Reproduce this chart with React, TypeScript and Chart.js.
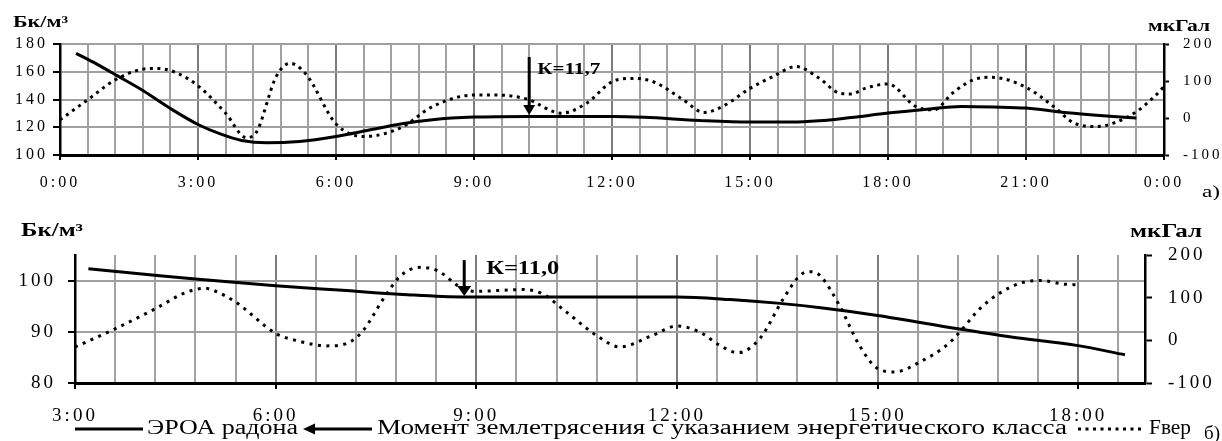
import React, { useEffect, useRef } from 'react';
import { Chart, registerables } from 'chart.js';

Chart.register(...registerables);

const SERIF = '"Liberation Serif", "Times New Roman", Times, serif';

// ---------- panel а) ----------
const radonHoursA = [0.35, 0.8, 1.25, 1.8, 2.4, 3.0, 3.5, 3.95, 4.5, 5.2, 6.0, 6.7, 7.4, 8.1, 9.0, 10.2, 11.2, 12.0, 12.7, 13.9, 15.0, 15.9, 16.5, 17.2, 18.0, 18.8, 19.6, 20.3, 21.0, 21.9, 22.6, 23.4];
const radonA = [173.3, 165.5, 157, 146.5, 133.5, 122, 115, 110.5, 108.8, 109.8, 113.4, 117.8, 122.3, 125.4, 127.3, 127.8, 127.8, 127.8, 127.2, 124.9, 123.7, 123.7, 124.6, 127, 130.2, 132.8, 135, 134.6, 133.8, 130.5, 128.5, 126.6];
const gravHoursA = [0, 0.6, 1.2, 1.8, 2.1, 2.5, 3.0, 3.6, 4.05, 4.25, 4.7, 5.0, 5.35, 6.0, 6.6, 7.4, 8.1, 9.0, 9.5, 10.15, 10.9, 11.45, 12.0, 12.45, 12.9, 13.55, 14.0, 14.4, 15.0, 15.5, 16.0, 16.5, 16.95, 17.2, 17.5, 18.0, 18.6, 19.0, 19.4, 19.85, 20.25, 21.0, 21.6, 22.05, 22.55, 22.9, 23.4, 23.75, 24.0];
const gravA = [-5, 49, 103, 132, 134, 124, 87, 13, -53, -42, 112, 148, 118, -16, -50, -27, 31, 62, 62, 51, 13, 40, 98, 107, 98, 49, 15, 31, 80, 112, 139, 108, 67, 65, 80, 92, 31, 22, 67, 103, 110, 83, 31, -14, -23, -14, 17, 53, 85];
const xMajorA = [0, 3, 6, 9, 12, 15, 18, 21, 24];
const xTickLabelsA = ['0:00', '3:00', '6:00', '9:00', '12:00', '15:00', '18:00', '21:00', '0:00'];
const leftRangeA = [100, 180];
const leftTicksA = [100, 120, 140, 160, 180];
const rightRangeA = [-100, 200];
const rightTicksA = [-100, -50, 0, 50, 100, 150, 200];
const quakeHourA = 10.2;
const quakeArrowA = [170.6, 128.8];
const quakeLabelA = 'К=11,7';

// ---------- panel б) ----------
const radonHoursB = [3.2, 4.0, 4.8, 6.0, 7.0, 7.9, 8.8, 9.8, 11.0, 12.0, 12.8, 13.5, 14.15, 15.0, 16.2, 17.0, 18.0, 18.7];
const radonB = [102.3, 101.3, 100.3, 99.0, 98.1, 97.3, 96.8, 96.8, 96.8, 96.8, 96.3, 95.6, 94.7, 93.2, 90.6, 89.0, 87.3, 85.5];
const gravHoursB = [3.0, 3.6, 4.2, 4.67, 4.94, 5.07, 5.4, 6.01, 6.36, 6.76, 7.11, 7.31, 7.61, 7.86, 8.16, 8.41, 8.8, 9.0, 9.7, 9.99, 10.35, 10.83, 11.15, 11.64, 12.0, 12.34, 12.64, 12.91, 13.24, 13.59, 13.84, 13.99, 14.14, 14.43, 14.73, 15.0, 15.26, 15.63, 16.03, 16.23, 16.53, 16.85, 17.18, 17.45, 17.77, 18.0];
const gravB = [-15.6, 27, 74, 113, 122, 117, 90, 15.6, -2.3, -13, -4, 23, 97, 150, 171, 164, 121, 115, 119, 109, 66, 8, -15.6, 12, 33.5, 19.5, -11.7, -29, 4, 97, 152, 161, 152, 82, -12, -66, -74, -51, -12, 19.5, 74, 113, 136, 140, 132, 130];
const xMajorB = [3, 6, 9, 12, 15, 18];
const xTickLabelsB = ['3:00', '6:00', '9:00', '12:00', '15:00', '18:00'];
const leftRangeB = [80, 105];
const leftTicksB = [80, 90, 100];
const rightRangeB = [-100, 200];
const rightTicksB = [-100, 0, 100, 200];
const quakeHourB = 8.82;
const quakeArrowB = [104.0, 97.0];
const quakeLabelB = 'К=11,0';

// ---------- texts ----------
const seriesNames = ['ЭРОА радона', 'Fвер'];
const quakeLegend = 'Момент землетрясения с указанием энергетического класса';
const unitLeft = 'Бк/м³';
const unitRight = 'мкГал';
const panelLabels = ['а)', 'б)'];

const GRID_STEP = 0.6;
const MINOR_COLOR = '#a2a2a2';
const MAJOR_COLOR = '#7c7c7c';
const near = (a: number, b: number) => Math.abs(a - b) < 1e-6;

function gridValues(min: number, max: number) {
  const out: number[] = [];
  const n = Math.floor((max - min) / GRID_STEP + 1e-6);
  for (let i = 0; i <= n; i++) {
    out.push(Math.round((min + i * GRID_STEP) * 1000) / 1000);
  }
  return out;
}

function drawText(ctx: CanvasRenderingContext2D, text: string, x: number, y: number, font: string, width: number) {
  ctx.save();
  ctx.font = font;
  (ctx as any).letterSpacing = '0px';
  ctx.fillStyle = '#000';
  ctx.textBaseline = 'middle';
  ctx.textAlign = 'left';
  const w = ctx.measureText(text).width || 1;
  ctx.translate(x, y);
  ctx.scale(width / w, 1);
  ctx.fillText(text, 0, 0);
  ctx.restore();
}

function drawArrow(ctx: CanvasRenderingContext2D, x1: number, y1: number, x2: number, y2: number, headLen: number, headW: number, lw: number) {
  const dx = x2 - x1, dy = y2 - y1;
  const len = Math.hypot(dx, dy) || 1;
  const ux = dx / len, uy = dy / len;
  const bx = x2 - ux * headLen, by = y2 - uy * headLen;
  ctx.save();
  ctx.strokeStyle = '#000';
  ctx.fillStyle = '#000';
  ctx.lineWidth = lw;
  ctx.setLineDash([]);
  ctx.beginPath();
  ctx.moveTo(x1, y1);
  ctx.lineTo(bx + ux, by + uy);
  ctx.stroke();
  ctx.beginPath();
  ctx.moveTo(x2, y2);
  ctx.lineTo(bx - uy * headW / 2, by + ux * headW / 2);
  ctx.lineTo(bx + uy * headW / 2, by - ux * headW / 2);
  ctx.closePath();
  ctx.fill();
  ctx.restore();
}

// vertical grid every 36 minutes, placed with the x scale and painted beneath everything already drawn
function drawTimeGrid(chart: any, p: Panel) {
  const xs = chart.scales.x;
  const area = chart.chartArea;
  const ctx = chart.ctx as CanvasRenderingContext2D;
  const values = gridValues(p.xMin, p.xMax);
  ctx.save();
  ctx.globalAlpha = 1;
  ctx.globalCompositeOperation = 'destination-over';
  ctx.lineWidth = 2;
  ctx.setLineDash([]);
  for (let k = 1; k < values.length; k++) {
    const v = values[k];
    if (near(v, p.xMax)) continue;
    if (p.xMajor.some((m) => near(m, v))) continue;
    const x = Math.round(xs.getPixelForValue(v));
    ctx.strokeStyle = MINOR_COLOR;
    ctx.beginPath();
    ctx.moveTo(x, area.top);
    ctx.lineTo(x, area.bottom - 1);
    ctx.stroke();
  }
  ctx.restore();
}

const spacingPlugin = {
  id: 'spacing',
  beforeDraw(chart: any) {
    (chart.ctx as any).letterSpacing = '3px';
  },
};

const overlayA = {
  id: 'overlayA',
  afterDraw(chart: any) {
    drawTimeGrid(chart, panelA);
    const ctx = chart.ctx as CanvasRenderingContext2D;
    const xs = chart.scales.x, ys = chart.scales.y;
    const x = xs.getPixelForValue(quakeHourA);
    const yTop = ys.getPixelForValue(quakeArrowA[0]);
    const yTip = ys.getPixelForValue(quakeArrowA[1]);
    drawArrow(ctx, x, yTop, x, yTip, 10, 12, 3);
    drawText(ctx, quakeLabelA, x + 8, yTop + 13, `bold 16px ${SERIF}`, 63);
    drawText(ctx, unitLeft, 13, 23, `bold 16px ${SERIF}`, 55);
    drawText(ctx, unitRight, 1148, 27, `bold 16px ${SERIF}`, 62);
    drawText(ctx, panelLabels[0], 1202, 193, `17px ${SERIF}`, 18);
  },
};

const overlayB = {
  id: 'overlayB',
  afterDraw(chart: any) {
    drawTimeGrid(chart, panelB);
    const ctx = chart.ctx as CanvasRenderingContext2D;
    const xs = chart.scales.x, ys = chart.scales.y;
    const x = xs.getPixelForValue(quakeHourB);
    const yTop = ys.getPixelForValue(quakeArrowB[0]);
    const yTip = ys.getPixelForValue(quakeArrowB[1]);
    drawArrow(ctx, x, yTop, x, yTip, 10, 14, 3);
    drawText(ctx, quakeLabelB, x + 22, yTop + 9, `bold 18px ${SERIF}`, 73);
    drawText(ctx, unitLeft, 21, 31, `bold 18px ${SERIF}`, 62);
    drawText(ctx, unitRight, 1130, 32, `bold 18px ${SERIF}`, 72);

    // legend
    const ly = 229;
    ctx.save();
    ctx.strokeStyle = '#000';
    ctx.lineWidth = 3;
    ctx.setLineDash([]);
    ctx.beginPath();
    ctx.moveTo(75, ly);
    ctx.lineTo(143, ly);
    ctx.stroke();
    ctx.restore();
    drawText(ctx, seriesNames[0], 147, ly, `20px ${SERIF}`, 151);
    drawArrow(ctx, 372, ly, 303, ly, 12, 11, 3);
    drawText(ctx, quakeLegend, 377, ly, `20px ${SERIF}`, 690);
    ctx.save();
    ctx.strokeStyle = '#000';
    ctx.lineWidth = 3;
    ctx.lineCap = 'butt';
    ctx.setLineDash([3, 4.5]);
    ctx.beginPath();
    ctx.moveTo(1078, ly);
    ctx.lineTo(1144, ly);
    ctx.stroke();
    ctx.restore();
    drawText(ctx, seriesNames[1], 1149, ly, `20px ${SERIF}`, 42);
    drawText(ctx, panelLabels[1], 1204, ly + 5, `19px ${SERIF}`, 16);
  },
};

type Panel = {
  xMin: number; xMax: number; xMajor: number[]; xLabels: string[];
  leftRange: number[]; leftTicks: number[]; rightRange: number[]; rightTicks: number[];
  radonH: number[]; radon: number[]; gravH: number[]; grav: number[];
  padTop: number; leftW: number; rightW: number; xAxisH: number;
  tickFont: number; rightFont: number; xTickLen: number; xPad: number;
  yTickLenL: number; yPadL: number; yTickLenR: number; yPadR: number;
  dotDash: number[]; overlay: any;
};

const panelA: Panel = {
  xMin: 0, xMax: 24, xMajor: xMajorA, xLabels: xTickLabelsA,
  leftRange: leftRangeA, leftTicks: leftTicksA, rightRange: rightRangeA, rightTicks: rightTicksA,
  radonH: radonHoursA, radon: radonA, gravH: gravHoursA, grav: gravA,
  padTop: 44, leftW: 60, rightW: 58, xAxisH: 45,
  tickFont: 16, rightFont: 15, xTickLen: 5, xPad: 13,
  yTickLenL: 7, yPadL: 5, yTickLenR: 5, yPadR: 14,
  dotDash: [3, 4.5], overlay: overlayA,
};

const panelB: Panel = {
  xMin: 3, xMax: 19, xMajor: xMajorB, xLabels: xTickLabelsB,
  leftRange: leftRangeB, leftTicks: leftTicksB, rightRange: rightRangeB, rightTicks: rightTicksB,
  radonH: radonHoursB, radon: radonB, gravH: gravHoursB, grav: gravB,
  padTop: 55, leftW: 75, rightW: 77, xAxisH: 58,
  tickFont: 19, rightFont: 19, xTickLen: 6, xPad: 16,
  yTickLenL: 7, yPadL: 12, yTickLenR: 7, yPadR: 16,
  dotDash: [3, 5.5], overlay: overlayB,
};

function buildConfig(p: Panel): any {
  return {
    type: 'line',
    data: {
      datasets: [
        {
          label: seriesNames[0],
          data: p.radonH.map((h, i) => ({ x: h, y: p.radon[i] })),
          xAxisID: 'x',
          yAxisID: 'y',
          borderColor: '#000',
          borderWidth: 3,
          pointRadius: 0,
          cubicInterpolationMode: 'monotone',
          fill: false,
          order: 1,
        },
        {
          label: seriesNames[1],
          data: p.gravH.map((h, i) => ({ x: h, y: p.grav[i] })),
          xAxisID: 'x',
          yAxisID: 'y1',
          borderColor: '#000',
          borderWidth: 3,
          borderDash: p.dotDash,
          borderCapStyle: 'butt',
          pointRadius: 0,
          cubicInterpolationMode: 'monotone',
          fill: false,
          order: 2,
        },
      ],
    },
    options: {
      responsive: false,
      animation: false,
      devicePixelRatio: 1,
      events: [],
      layout: { padding: { top: p.padTop, left: 0, right: 0, bottom: 0 } },
      plugins: { legend: { display: false }, tooltip: { enabled: false }, title: { display: false } },
      scales: {
        x: {
          type: 'linear',
          display: false,
          min: p.xMin,
          max: p.xMax,
        },
        x2: {
          type: 'linear',
          position: 'bottom',
          min: p.xMin,
          max: p.xMax,
          afterBuildTicks: (s: any) => { s.ticks = p.xMajor.map((v) => ({ value: v })); },
          afterFit: (s: any) => { s.height = p.xAxisH; },
          ticks: {
            autoSkip: false,
            maxRotation: 0,
            minRotation: 0,
            padding: p.xPad,
            color: '#000',
            font: { family: SERIF, size: p.tickFont },
            callback: (v: number, i: number) => p.xLabels[i],
          },
          grid: {
            display: true,
            drawOnChartArea: true,
            color: MAJOR_COLOR,
            lineWidth: 2,
            drawTicks: true,
            tickLength: p.xTickLen,
            tickWidth: 2,
            tickColor: '#000',
          },
          border: { display: true, color: '#000', width: 3 },
        },
        y: {
          position: 'left',
          min: p.leftRange[0],
          max: p.leftRange[1],
          afterBuildTicks: (s: any) => { s.ticks = p.leftTicks.map((v) => ({ value: v })); },
          afterFit: (s: any) => { s.width = p.leftW; },
          ticks: { padding: p.yPadL, color: '#000', font: { family: SERIF, size: p.tickFont } },
          grid: {
            color: (c: any) => (c.tick && near(c.tick.value, p.leftRange[0]) ? 'rgba(0,0,0,0)' : '#a0a0a0'),
            lineWidth: 2,
            tickLength: p.yTickLenL,
            tickWidth: 2,
            tickColor: '#000',
          },
          border: { display: true, color: '#000', width: 2.5 },
        },
        y1: {
          position: 'right',
          min: p.rightRange[0],
          max: p.rightRange[1],
          afterBuildTicks: (s: any) => { s.ticks = p.rightTicks.map((v) => ({ value: v })); },
          afterFit: (s: any) => { s.width = p.rightW; },
          ticks: { padding: p.yPadR, color: '#000', font: { family: SERIF, size: p.rightFont } },
          grid: { drawOnChartArea: false, tickLength: p.yTickLenR, tickWidth: 2, tickColor: '#000' },
          border: { display: true, color: '#000', width: 2.5 },
        },
      },
    },
    plugins: [spacingPlugin, p.overlay],
  };
}

export default function App() {
  const refA = useRef<HTMLCanvasElement>(null);
  const refB = useRef<HTMLCanvasElement>(null);
  useEffect(() => {
    const a = new Chart(refA.current as HTMLCanvasElement, buildConfig(panelA));
    const b = new Chart(refB.current as HTMLCanvasElement, buildConfig(panelB));
    return () => {
      a.destroy();
      b.destroy();
    };
  }, []);
  return (
    <div style={{ position: 'absolute', left: 0, top: 0, width: 1222, height: 441, background: '#fff', overflow: 'hidden' }}>
      <canvas ref={refA} width={1222} height={200} style={{ position: 'absolute', left: 0, top: 0, width: 1222, height: 200 }} />
      <canvas ref={refB} width={1222} height={241} style={{ position: 'absolute', left: 0, top: 200, width: 1222, height: 241 }} />
    </div>
  );
}
